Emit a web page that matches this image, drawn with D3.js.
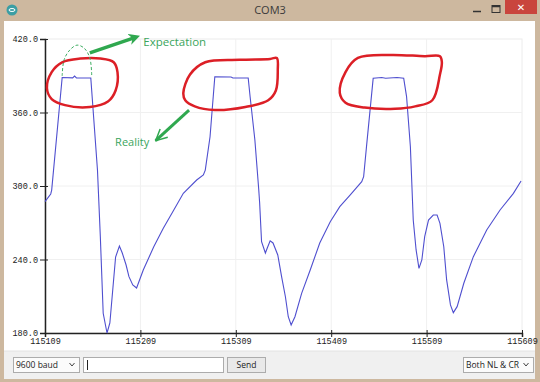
<!DOCTYPE html>
<html>
<head>
<meta charset="utf-8">
<script src="https://cdn.jsdelivr.net/npm/d3@7"></script>
<style>
  html, body { margin: 0; padding: 0; background: #cdb89f; }
  svg { display: block; }
</style>
</head>
<body>
<div id="chart"></div>
<script>
// serial plotter samples (sample index, reading)
const sampleIdx = [115109, 115115, 115116, 115127, 115138, 115140, 115142, 115157, 115164, 115167, 115170, 115174,
  115177, 115183, 115187, 115190, 115194, 115197, 115201, 115205, 115212, 115223, 115233, 115244, 115254,
  115268, 115275, 115277, 115282, 115287, 115304, 115306, 115322, 115324, 115329, 115333, 115334, 115336,
  115340, 115342, 115345, 115348, 115353, 115357, 115361, 115364, 115367, 115371, 115378, 115387, 115397,
  115408, 115418, 115429, 115441, 115443, 115446, 115453, 115462, 115466, 115478, 115485, 115488, 115492,
  115495, 115498, 115501, 115504, 115507, 115511, 115516, 115520, 115523, 115527, 115530, 115534, 115537,
  115541, 115548, 115558, 115572, 115586, 115600, 115608];
const readings = [287.2, 293.5, 296.7, 388.6, 388.3, 389.8, 388.3, 388.2, 313.1, 258.6, 196.1, 180.0,
  188.2, 242.0, 251.0, 245.3, 235.5, 226.0, 219.2, 216.7, 231.4, 250.4, 265.5, 280.4, 294.0,
  304.9, 309.0, 313.0, 340.2, 389.2, 389.0, 388.2, 388.2, 372.9, 337.5, 297.5, 286.1, 254.5,
  245.3, 249.4, 255.3, 253.5, 243.7, 226.0, 209.6, 193.3, 186.5, 193.3, 212.4, 231.4, 253.5,
  270.9, 283.1, 292.7, 303.5, 307.6, 332.1, 387.9, 388.6, 388.0, 388.6, 387.9, 373.0, 332.1,
  272.2, 247.8, 232.8, 239.6, 258.6, 272.2, 276.3, 276.3, 269.5, 250.4, 223.3, 202.9, 196.6,
  201.5, 220.6, 242.3, 264.1, 280.4, 294.0, 304.1];

const xTicks = [115109, 115209, 115309, 115409, 115509, 115609];
const yTicks = [180, 240, 300, 360, 420];

// hand-drawn annotation outlines, in chart units
const ringA = [[115111, 380], [115116, 393], [115127, 401], [115146, 404], [115167, 404], [115181, 401],
  [115185, 393], [115183, 378], [115175, 369], [115156, 364.5], [115130, 366], [115116, 371]];
const ringB = [[115254, 376], [115261, 391], [115277, 401], [115313, 403], [115345, 403.7], [115352, 404.5],
  [115353, 395], [115351, 378], [115343, 370], [115319, 364.5], [115287, 362], [115266, 365], [115256, 370]];
const ringC = [[115418, 376], [115424, 393], [115437, 404.5], [115471, 407], [115507, 406], [115523, 406],
  [115525, 401], [115523, 391], [115515, 370], [115497, 365], [115476, 363], [115444, 364], [115424, 368]];
const expectArc = [[115127, 389.8], [115129, 403], [115135, 411], [115142.5, 415], [115150, 412.6], [115156, 404.5], [115158, 389.8]];
const expectArrow = [[115156, 408.6], [115203, 421.2]];
const realityArrow = [[115260, 362], [115225, 337]];

const W = 540, H = 382;
const svg = d3.select('#chart').append('svg')
  .attr('width', W)
  .attr('height', H);

// window frame
svg.append('rect').attr('width', W).attr('height', H).attr('fill', '#cdb89f');
svg.append('rect').attr('x', 4).attr('y', 21).attr('width', 531).attr('height', 358).attr('fill', '#ffffff');

// title bar
svg.append('circle').attr('cx', 12).attr('cy', 10).attr('r', 5.5).attr('fill', '#3b9ea4');
svg.append('ellipse').attr('cx', 12).attr('cy', 10).attr('rx', 3).attr('ry', 1.5)
  .attr('fill', 'none').attr('stroke', '#fff').attr('stroke-width', 1);
svg.append('text').attr('x', 270).attr('y', 14).attr('text-anchor', 'middle')
  .attr('font-family', 'Open Sans, Noto Sans, sans-serif').attr('font-size', 11)
  .attr('fill', '#3a3a3a').text('COM3');
svg.append('line').attr('x1', 473).attr('x2', 481).attr('y1', 11.5).attr('y2', 11.5)
  .attr('stroke', '#333').attr('stroke-width', 1.5);
svg.append('rect').attr('x', 492).attr('y', 5.5).attr('width', 8).attr('height', 7)
  .attr('fill', 'none').attr('stroke', '#333').attr('stroke-width', 1);
svg.append('line').attr('x1', 492).attr('x2', 500).attr('y1', 6.5).attr('y2', 6.5)
  .attr('stroke', '#333').attr('stroke-width', 1.5);
svg.append('rect').attr('x', 505).attr('y', 0).attr('width', 32).attr('height', 14).attr('fill', '#c9453d');
svg.append('text').attr('x', 521).attr('y', 11).attr('text-anchor', 'middle')
  .attr('font-family', 'DejaVu Sans, sans-serif').attr('font-size', 10).attr('font-weight', 'bold')
  .attr('fill', '#fff').text('✕');

// plot scales
const x = d3.scaleLinear().domain([115109, 115609]).range([45, 522]);
const y = d3.scaleLinear().domain([180, 420]).range([333, 39]);

// plot border + grid
svg.append('rect').attr('x', 45).attr('y', 39).attr('width', 477).attr('height', 294)
  .attr('fill', '#fff').attr('stroke', '#ececec');
svg.append('g').selectAll('line').data(yTicks.slice(1, -1)).enter().append('line')
  .attr('x1', 45).attr('x2', 522).attr('y1', d => y(d)).attr('y2', d => y(d))
  .attr('stroke', '#f0f0f0');
svg.append('g').selectAll('line').data(xTicks.slice(1, -1)).enter().append('line')
  .attr('y1', 39).attr('y2', 333).attr('x1', d => x(d)).attr('x2', d => x(d))
  .attr('stroke', '#f0f0f0');

const tickFont = 'Liberation Mono, DejaVu Sans Mono, monospace';

const yAxis = svg.append('g').attr('transform', 'translate(45,0)')
  .call(d3.axisLeft(y).tickValues(yTicks).tickSize(5).tickPadding(2).tickFormat(d3.format('.1f')));
yAxis.select('.domain').attr('stroke', '#222').attr('stroke-width', 1.5);
yAxis.selectAll('.tick line').attr('x1', 3).attr('stroke', '#222');
yAxis.selectAll('.tick text').attr('font-family', tickFont).attr('font-size', 8.5).attr('fill', '#222');

const xAxis = svg.append('g').attr('transform', 'translate(0,333)')
  .call(d3.axisBottom(x).tickValues(xTicks).tickSize(4).tickPadding(1).tickFormat(d3.format('d')));
xAxis.select('.domain').attr('stroke', '#222').attr('stroke-width', 1.5);
xAxis.selectAll('.tick line').attr('y1', -3).attr('stroke', '#222');
xAxis.selectAll('.tick text').attr('font-family', tickFont).attr('font-size', 8.5).attr('fill', '#222');

// signal
const pts = sampleIdx.map((s, i) => [s, readings[i]]);
const line = d3.line().x(d => x(d[0])).y(d => y(d[1]));
svg.append('path').datum(pts).attr('d', line)
  .attr('fill', 'none').attr('stroke', '#4f4fcf').attr('stroke-width', 1.1);

// annotations
const green = '#2fa84f';
const ring = d3.line().x(d => x(d[0])).y(d => y(d[1])).curve(d3.curveCatmullRomClosed);
[ringA, ringB, ringC].forEach(r => {
  svg.append('path').datum(r).attr('d', ring)
    .attr('fill', 'none').attr('stroke', '#dc1f26').attr('stroke-width', 2.5);
});
svg.append('path').datum(expectArc)
  .attr('d', d3.line().x(d => x(d[0])).y(d => y(d[1])).curve(d3.curveCatmullRom))
  .attr('fill', 'none').attr('stroke', '#3fae63').attr('stroke-width', 1).attr('stroke-dasharray', '3,2');

const defs = svg.append('defs');
defs.append('marker').attr('id', 'headFill').attr('viewBox', '0 0 10 10')
  .attr('refX', 5).attr('refY', 5).attr('markerWidth', 3.2).attr('markerHeight', 3.2)
  .attr('orient', 'auto').append('path').attr('d', 'M0,0 L10,5 L0,10 L3,5 Z').attr('fill', green);
defs.append('marker').attr('id', 'headOpen').attr('viewBox', '0 0 12 12')
  .attr('refX', 11).attr('refY', 6).attr('markerWidth', 4.5).attr('markerHeight', 4.5)
  .attr('orient', 'auto').append('path').attr('d', 'M1,1 L11,6 L1,11')
  .attr('fill', 'none').attr('stroke', green).attr('stroke-width', 1.3);

svg.append('line')
  .attr('x1', x(expectArrow[0][0])).attr('y1', y(expectArrow[0][1]))
  .attr('x2', x(expectArrow[1][0])).attr('y2', y(expectArrow[1][1]))
  .attr('stroke', green).attr('stroke-width', 3.5).attr('marker-end', 'url(#headFill)');
svg.append('line')
  .attr('x1', x(realityArrow[0][0])).attr('y1', y(realityArrow[0][1]))
  .attr('x2', x(realityArrow[1][0])).attr('y2', y(realityArrow[1][1]))
  .attr('stroke', green).attr('stroke-width', 3).attr('marker-end', 'url(#headOpen)');

svg.append('text').attr('x', x(115212)).attr('y', y(414))
  .attr('font-family', 'Open Sans, Noto Sans, sans-serif').attr('font-size', 11.5)
  .attr('fill', '#3aa55c').text('Expectation');
svg.append('text').attr('x', x(115182.5)).attr('y', y(332.5))
  .attr('font-family', 'Open Sans, Noto Sans, sans-serif').attr('font-size', 11)
  .attr('fill', '#3aa55c').text('Reality');

// bottom control bar
svg.append('rect').attr('x', 4).attr('y', 351).attr('width', 531).attr('height', 28).attr('fill', '#f0f0f0');
svg.append('line').attr('x1', 4).attr('x2', 535).attr('y1', 351).attr('y2', 351).attr('stroke', '#e2e2e2');

const ctrlFont = 'Open Sans, Noto Sans, sans-serif';
function box(x0, w, fill) {
  svg.append('rect').attr('x', x0 + 0.5).attr('y', 357.5).attr('width', w).attr('height', 15)
    .attr('fill', fill).attr('stroke', '#acacac');
}
function label(x0, txt, anchor) {
  svg.append('text').attr('x', x0).attr('y', 368).attr('text-anchor', anchor || 'start')
    .attr('font-family', ctrlFont).attr('font-size', 8.5).attr('fill', '#222').text(txt);
}
function chevron(cx) {
  svg.append('path').attr('d', `M${cx - 2.5},${363} L${cx},${366} L${cx + 2.5},${363}`)
    .attr('fill', 'none').attr('stroke', '#444').attr('stroke-width', 1);
}
box(13, 66, '#fbfbfb'); label(16, '9600 baud'); chevron(72);
box(83, 140, '#ffffff');
svg.append('line').attr('x1', 87.5).attr('x2', 87.5).attr('y1', 360).attr('y2', 370).attr('stroke', '#222');
box(227, 38, '#e9e9e9'); label(246.5, 'Send', 'middle');
box(463, 70, '#fbfbfb'); label(466, 'Both NL & CR'); chevron(526);
</script>
</body>
</html>
